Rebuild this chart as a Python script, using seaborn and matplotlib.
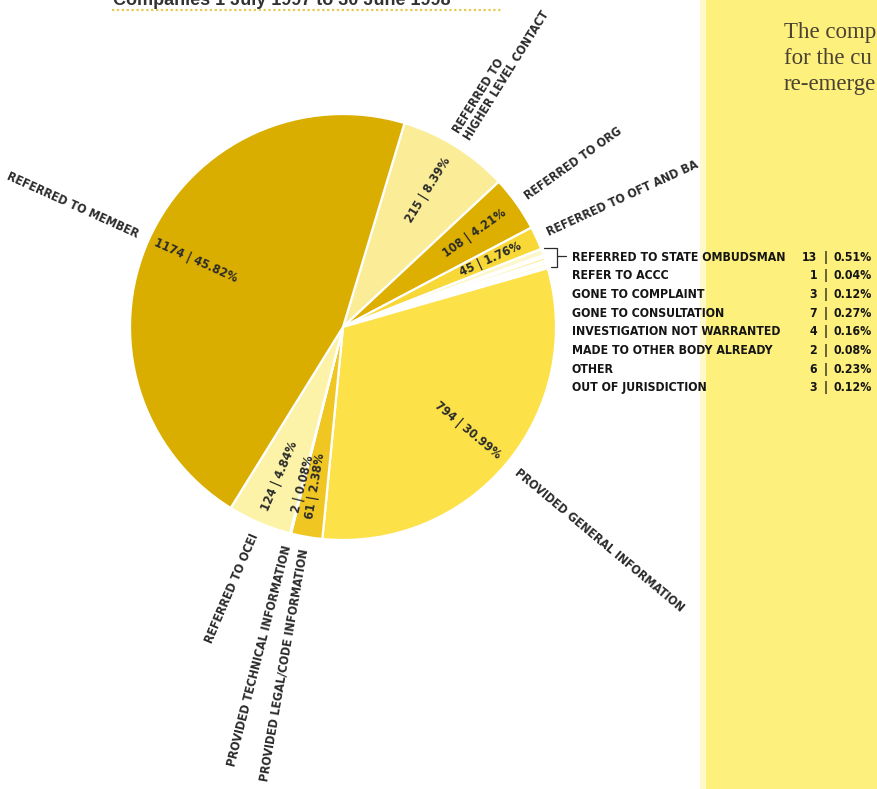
import numpy as np
import matplotlib
matplotlib.use("Agg")
import matplotlib.pyplot as plt
import seaborn as sns

# Enquiry outcomes, listed clockwise from the top of the pie
categories = [
    "REFERRED TO HIGHER LEVEL CONTACT", "REFERRED TO ORG", "REFERRED TO OFT AND BA",
    "REFERRED TO STATE OMBUDSMAN", "REFER TO ACCC", "GONE TO COMPLAINT",
    "GONE TO CONSULTATION", "INVESTIGATION NOT WARRANTED", "MADE TO OTHER BODY ALREADY",
    "OTHER", "OUT OF JURISDICTION",
    "PROVIDED GENERAL INFORMATION", "PROVIDED LEGAL/CODE INFORMATION",
    "PROVIDED TECHNICAL INFORMATION", "REFERRED TO OCEI", "REFERRED TO MEMBER",
]
counts = [215, 108, 45, 13, 1, 3, 7, 4, 2, 6, 3, 794, 61, 2, 124, 1174]
percents = ["8.39", "4.21", "1.76", "0.51", "0.04", "0.12", "0.27", "0.16",
            "0.08", "0.23", "0.12", "30.99", "2.38", "0.08", "4.84", "45.82"]
# the small outcomes are listed beside the pie instead of labelled on it
listed = [False, False, False, True, True, True, True, True, True, True, True,
          False, False, False, False, False]
outer_names = {
    "REFERRED TO HIGHER LEVEL CONTACT": "REFERRED TO\nHIGHER LEVEL CONTACT",
}

title = "Companies 1 July 1997 to 30 June 1998"
side_text = ["The comp", "for the cu", "re-emerge"]

colors = [
    "#FBEC98", "#DDAF00", "#F7D836",
    "#FDF7CC", "#FAEE9E", "#FDF7CC", "#FAEE9E", "#FDF7CC", "#FAEE9E", "#FDF7CC", "#FAEE9E",
    "#FCE148", "#F0C722", "#FAEC9C", "#FCF3A8", "#DAAE00",
]

sns.set_theme(style="white")
narrow = ["DejaVu Sans Condensed", "DejaVu Sans"]
ink = "#2b2b2b"

W, H = 878, 789
fig = plt.figure(figsize=(W / 100, H / 100), dpi=100)
ax = fig.add_axes([0, 0, 1, 1])

cx, cy, R = 343, H - 327, 213

wedges, _ = ax.pie(
    counts, colors=colors, startangle=73.2, counterclock=False,
    center=(cx, cy), radius=R, frame=True,
    wedgeprops=dict(edgecolor="white", linewidth=1.6),
)
ax.set_xlim(0, W)
ax.set_ylim(0, H)
ax.set_aspect("equal")
ax.axis("off")


def polar(theta, r):
    t = np.deg2rad(theta)
    return cx + r * np.cos(t), cy + r * np.sin(t)


for w, name, n, pct, small in zip(wedges, categories, counts, percents, listed):
    if small:
        continue
    mid = 0.5 * (w.theta1 + w.theta2)
    m = (mid + 180) % 360 - 180
    right = -90 < m < 90
    rot = m if right else m - 180
    # outer radial category label
    x, y = polar(mid, R + 12)
    ax.text(x, y, outer_names.get(name, name), rotation=rot, rotation_mode="anchor",
            ha="left" if right else "right", va="center", fontsize=8.8,
            fontweight="bold", fontstretch="condensed", color=ink, family=narrow,
            linespacing=1.0)
    # inner count | percent label
    x, y = polar(mid, R * 0.76)
    ax.text(x, y, f"{n} | {pct}%", rotation=rot, rotation_mode="anchor",
            ha="center", va="center", fontsize=9.0, fontweight="bold",
            fontstretch="condensed", color=ink, family=narrow)

# bracket gathering the small slices
small_idx = [i for i, s in enumerate(listed) if s]
top_t = wedges[small_idx[0]].theta2
bot_t = wedges[small_idx[-1]].theta1
xt, yt = polar(top_t, R + 3)
xb, yb = polar(bot_t, R + 3)
bx = 557
row0 = H - 257
ax.plot([xt, bx, bx, xb], [yt, yt, yb, yb], color=ink, lw=0.9)
ax.plot([bx, bx + 9], [row0 + 1, row0 + 1], color=ink, lw=0.9)

# side panel
ax.add_patch(plt.Rectangle((706, 0), W - 706, H, facecolor="#FEF07C",
                           edgecolor="none", zorder=0))
ax.add_patch(plt.Rectangle((700, 0), 6, H, facecolor="#FFF8C8",
                           edgecolor="none", zorder=0))
for k, line in enumerate(side_text):
    ax.text(784, H - 38 - 26 * k, line, fontsize=16.5, family="Liberation Serif",
            color="#4a4233", ha="left", va="baseline")

# list of small outcomes
for k, i in enumerate(small_idx):
    y = row0 - 18.7 * k
    kw = dict(fontsize=8.8, fontweight="bold", fontstretch="condensed",
              color="#151515", family=narrow, va="center")
    ax.text(572, y, categories[i], ha="left", **kw)
    ax.text(817, y, str(counts[i]), ha="right", **kw)
    ax.text(826, y, "|", ha="center", **kw)
    ax.text(834, y, f"{percents[i]}%", ha="left", **kw)

# heading cut by the page top, with its dotted rule
ax.text(113, H - 5, title, fontsize=13, fontweight="bold", color="#333333",
        family=["Liberation Sans", "DejaVu Sans"], ha="left", va="baseline")
ax.plot([112, 503], [H - 10, H - 10], color="#E8C94E", lw=1.6, ls=(0, (1, 1.2)))

fig.savefig("out.png", dpi=100)
